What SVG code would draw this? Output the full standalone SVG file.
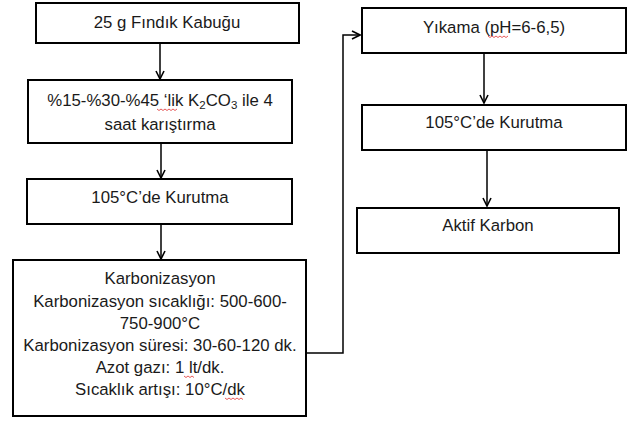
<svg xmlns="http://www.w3.org/2000/svg" width="633" height="421" viewBox="0 0 633 421">
<defs>
<style>
.box{fill:#fff;stroke:#000;stroke-width:2}
.t{font-family:"Liberation Sans","Open Sans",sans-serif;font-size:16.8px;fill:#1a1a1a;text-anchor:middle}
.c{fill:none;stroke:#000;stroke-width:1.5}
.w{fill:none;stroke:#e03030;stroke-width:0.8}
</style>
<marker id="ah" viewBox="0 0 10 10" refX="9" refY="5" markerWidth="10" markerHeight="10" markerUnits="userSpaceOnUse" orient="auto">
<polyline points="1,1 9,5 1,9" fill="none" stroke="#000" stroke-width="1.6"/>
</marker>
</defs>
<rect width="633" height="421" fill="#fff"/>
<g id="n1"><rect class="box" x="36" y="3" width="263" height="40"/><text class="t" x="167" y="28">25 g Fındık Kabuğu</text></g>
<g id="n2"><rect class="box" x="28" y="80" width="264" height="63"/><text class="t" x="160" y="106">%15-%30-%45 ‘lik K<tspan font-size="11.5" dy="3">2</tspan><tspan dy="-3">CO</tspan><tspan font-size="11.5" dy="3">3</tspan><tspan dy="-3"> ile 4</tspan></text><text class="t" x="160" y="130">saat karıştırma</text>
<path class="w" d="M157,109 l2,1.5 l2,-1.5 l2,1.5 l2,-1.5 l2,1.5 l2,-1.5 l2,1.5 l2,-1.5 l2,1.5 l2,-1.5"/></g>
<g id="n3"><rect class="box" x="27" y="179" width="265" height="45"/><text class="t" x="160" y="203">105°C’de Kurutma</text></g>
<g id="n4"><rect class="box" x="13" y="260" width="293" height="156"/>
<text class="t" x="160" y="284">Karbonizasyon</text>
<text class="t" x="160" y="307">Karbonizasyon sıcaklığı: 500-600-</text>
<text class="t" x="160" y="329">750-900°C</text>
<text class="t" x="160" y="351">Karbonizasyon süresi: 30-60-120 dk.</text>
<text class="t" x="160" y="373">Azot gazı: 1 lt/dk.</text>
<text class="t" x="160" y="395">Sıcaklık artışı: 10°C/dk</text>
<path class="w" d="M184,376 l2,1.5 l2,-1.5 l2,1.5 l2,-1.5 l2,1.5"/>
<path class="w" d="M225,398 l2,1.5 l2,-1.5 l2,1.5 l2,-1.5 l2,1.5 l2,-1.5 l2,1.5 l2,-1.5 l2,1.5"/>
</g>
<g id="n5"><rect class="box" x="362" y="8" width="264" height="45"/><text class="t" x="494" y="33">Yıkama (pH=6-6,5)</text>
<path class="w" d="M488,36 l2,1.5 l2,-1.5 l2,1.5 l2,-1.5 l2,1.5 l2,-1.5 l2,1.5 l2,-1.5 l2,1.5 l2,-1.5"/></g>
<g id="n6"><rect class="box" x="362" y="105" width="264" height="45"/><text class="t" x="494" y="128">105°C’de Kurutma</text></g>
<g id="n7"><rect class="box" x="357" y="208" width="262" height="45"/><text class="t" x="488" y="231">Aktif Karbon</text></g>
<g id="connectors">
<line class="c" x1="160" y1="43" x2="160" y2="79" marker-end="url(#ah)"/>
<line class="c" x1="161" y1="143" x2="161" y2="178" marker-end="url(#ah)"/>
<line class="c" x1="161" y1="224" x2="161" y2="259" marker-end="url(#ah)"/>
<polyline class="c" points="306,353 343,353 343,35 360,35" marker-end="url(#ah)"/>
<line class="c" x1="484" y1="53" x2="484" y2="103" marker-end="url(#ah)"/>
<line class="c" x1="487" y1="150" x2="487" y2="206" marker-end="url(#ah)"/>
</g>
</svg>
